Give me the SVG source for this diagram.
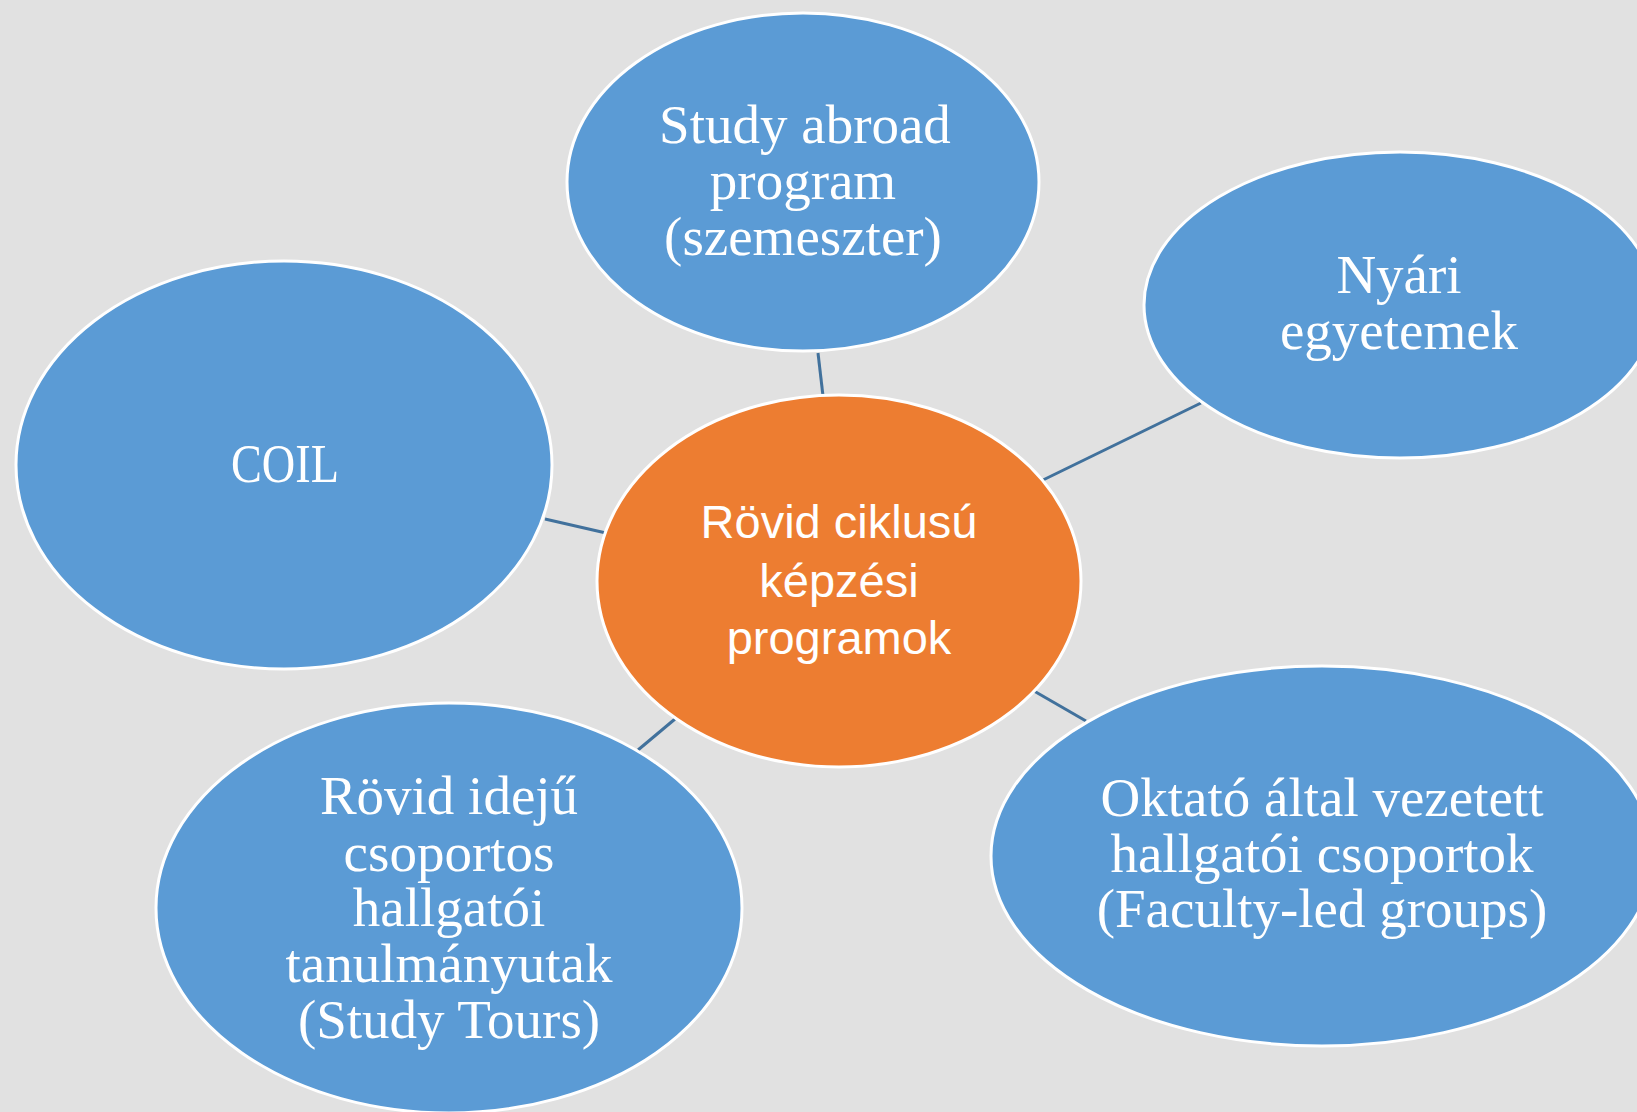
<svg xmlns="http://www.w3.org/2000/svg" width="1637" height="1112" viewBox="0 0 1637 1112">
<style>
.blue{fill:#5B9BD5;stroke:#FFFFFF;stroke-width:3}
.orange{fill:#ED7D31;stroke:#FFFFFF;stroke-width:3}
.lbl{font-family:"Liberation Serif",serif;font-size:55px;fill:#FFFFFF;text-anchor:middle}
.clbl{font-family:"Liberation Sans",sans-serif;font-size:47px;fill:#FFFFFF;text-anchor:middle}
.conn line{stroke:#41719C;stroke-width:3}
</style>
<rect x="0" y="0" width="1637" height="1112" fill="#E1E1E1"/>
<g id="connectors" class="conn">
<line x1="818" y1="353" x2="823" y2="396"/>
<line x1="1043" y1="480" x2="1201" y2="403"/>
<line x1="545" y1="519" x2="606" y2="533"/>
<line x1="675" y1="719" x2="638" y2="750"/>
<line x1="1034" y1="691" x2="1086" y2="721"/>
</g>
<g id="node-study-abroad">
<ellipse class="blue" cx="803" cy="182" rx="236" ry="169"/>
<text class="lbl"><tspan x="805" y="143">Study abroad</tspan><tspan x="803" y="199">program</tspan><tspan x="803" y="255">(szemeszter)</tspan></text>
</g>
<g id="node-nyari">
<ellipse class="blue" cx="1400" cy="305" rx="256" ry="153"/>
<text class="lbl"><tspan x="1399" y="293">Nyári</tspan><tspan x="1399" y="349">egyetemek</tspan></text>
</g>
<g id="node-coil">
<ellipse class="blue" cx="284" cy="465" rx="268" ry="204"/>
<text class="lbl" x="285" y="482" textLength="108" lengthAdjust="spacingAndGlyphs">COIL</text>
</g>
<g id="node-center">
<ellipse class="orange" cx="839" cy="581" rx="242" ry="186"/>
<text class="clbl"><tspan x="839" y="538">Rövid ciklusú</tspan><tspan x="839" y="597">képzési</tspan><tspan x="839" y="654">programok</tspan></text>
</g>
<g id="node-study-tours">
<ellipse class="blue" cx="449" cy="908" rx="293" ry="205"/>
<text class="lbl"><tspan x="449" y="814">Rövid idejű</tspan><tspan x="449" y="871">csoportos</tspan><tspan x="449" y="926">hallgatói</tspan><tspan x="449" y="982">tanulmányutak</tspan><tspan x="449" y="1038">(Study Tours)</tspan></text>
</g>
<g id="node-faculty-led">
<ellipse class="blue" cx="1322" cy="856" rx="331" ry="190"/>
<text class="lbl"><tspan x="1322" y="816">Oktató által vezetett</tspan><tspan x="1322" y="872">hallgatói csoportok</tspan><tspan x="1322" y="927">(Faculty-led groups)</tspan></text>
</g>
</svg>
